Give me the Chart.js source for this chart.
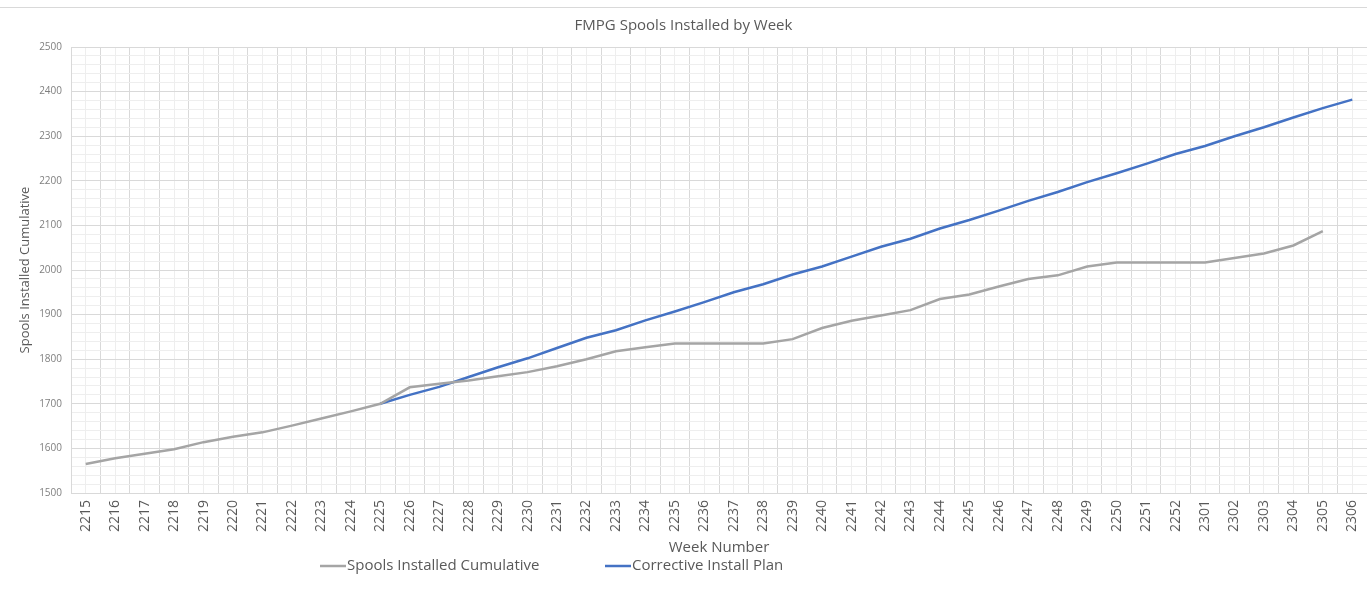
<!DOCTYPE html>
<html>
<head>
<meta charset="utf-8">
<script src="https://cdn.jsdelivr.net/npm/chart.js@4.4.1/dist/chart.umd.min.js"></script>
<style>
  body { margin: 0; background: #fff; }
  #wrap { position: relative; width: 1367px; height: 597px; }
  #topline { position: absolute; left: 0; right: 0; top: 7px; border-top: 1px solid #d9d9d9; }
</style>
</head>
<body>
<div id="wrap">
  <div id="topline"></div>
  <canvas id="spoolChart" width="1367" height="597"></canvas>
</div>
<script>
// week numbers (yyww)
const weeks = ['2215', '2216', '2217', '2218', '2219', '2220', '2221', '2222', '2223', '2224',
    '2225', '2226', '2227', '2228', '2229', '2230', '2231', '2232', '2233', '2234',
    '2235', '2236', '2237', '2238', '2239', '2240', '2241', '2242', '2243', '2244',
    '2245', '2246', '2247', '2248', '2249', '2250', '2251', '2252', '2301', '2302',
    '2303', '2304', '2305', '2306'];

const installedCumulative = [1565, 1578, 1588, 1598, 1614, 1626, 1636, 1651, 1667, 1683,
    1700, 1737, 1745, 1752, 1762, 1771, 1784, 1800, 1818, 1827,
    1835, 1835, 1835, 1835, 1845, 1870, 1886, 1898, 1910, 1935,
    1945, 1963, 1980, 1988, 2008, 2017, 2017, 2017, 2017, 2027,
    2037, 2055, 2087, null];

const correctivePlan = [null, null, null, null, null, null, null, null, null, null,
    1700, 1720, 1738, 1760, 1782, 1802, 1825, 1848, 1865, 1887,
    1907, 1928, 1950, 1968, 1990, 2008, 2030, 2052, 2070, 2093,
    2112, 2133, 2155, 2175, 2197, 2217, 2238, 2260, 2278, 2300,
    2320, 2342, 2363, 2382];

const yMin = 1500;
const yMax = 2500;

const textColor = '#595959';
const fontFamily = '"Open Sans", "Liberation Sans", sans-serif';

// legend drawn under the axis title, Excel style
const bottomLegend = {
    id: 'bottomLegend',
    afterDraw(chart) {
        let ctx = chart.ctx;
        let positions = [320, 605]; // line start x for each entry
        let y = 566;
        ctx.save();
        ctx.font = '15px ' + fontFamily;
        ctx.textBaseline = 'middle';
        chart.data.datasets.forEach((ds, i) => {
            let x = positions[i];
            ctx.strokeStyle = ds.borderColor;
            ctx.lineWidth = 2.5;
            ctx.beginPath();
            ctx.moveTo(x, y);
            ctx.lineTo(x + 26, y);
            ctx.stroke();
            ctx.fillStyle = textColor;
            ctx.fillText(ds.label, x + 27, y);
        });
        ctx.restore();
    }
};

let ctx = document.getElementById('spoolChart').getContext('2d');
let myChart = new Chart(ctx, {
    type: 'line',
    plugins: [bottomLegend],
    data: {
        labels: weeks,
        datasets: [{
            label: 'Spools Installed Cumulative',
            data: installedCumulative,
            borderColor: '#a5a5a5',
            borderWidth: 2.5,
            pointRadius: 0,
            tension: 0,
        }, {
            label: 'Corrective Install Plan',
            data: correctivePlan,
            borderColor: '#4472c4',
            borderWidth: 2.5,
            pointRadius: 0,
            tension: 0,
        }]
    },
    options: {
        responsive: false,
        animation: false,
        layout: {
            padding: { left: 0, right: 0, top: 0, bottom: 40 }
        },
        plugins: {
            legend: { display: false },
            tooltip: { enabled: false },
            title: {
                display: true,
                text: 'FMPG Spools Installed by Week',
                color: textColor,
                font: { family: fontFamily, size: 15, weight: 'normal' },
                padding: { top: 17, bottom: 12 }
            }
        },
        scales: {
            x: {
                type: 'category',
                offset: true,
                grid: {
                    offset: true,
                    color: '#d9d9d9',
                    drawTicks: false
                },
                border: { color: '#d9d9d9' },
                ticks: {
                    minRotation: 90,
                    maxRotation: 90,
                    autoSkip: false,
                    padding: 7,
                    color: '#595959',
                    font: { family: fontFamily, size: 14 }
                },
                title: {
                    display: true,
                    text: 'Week Number',
                    color: textColor,
                    font: { family: fontFamily, size: 15 },
                    padding: { top: 0, bottom: 0 }
                },
                afterFit: function (scale) {
                    scale.height = 64;
                    scale.paddingLeft = 0;
                    scale.paddingRight = 0;
                }
            },
            // minor vertical lines at category centres
            x2: {
                type: 'category',
                labels: weeks,
                position: 'top',
                offset: true,
                grid: {
                    offset: false,
                    color: '#eeeeee',
                    drawTicks: false
                },
                border: { display: false },
                ticks: { display: false },
                afterFit: function (scale) {
                    scale.height = 0;
                    scale.paddingLeft = 0;
                    scale.paddingRight = 0;
                }
            },
            y: {
                min: yMin,
                max: yMax,
                grid: {
                    color: '#d9d9d9',
                    drawTicks: false
                },
                border: { color: '#d9d9d9' },
                ticks: {
                    stepSize: 100,
                    padding: 9,
                    color: '#7f7f7f',
                    font: { family: fontFamily, size: 10 },
                    callback: function (value) {
                        return String(value); // no thousands separator
                    }
                },
                title: {
                    display: true,
                    text: 'Spools Installed Cumulative',
                    color: textColor,
                    font: { family: fontFamily, size: 13 },
                    padding: { top: 17, bottom: 0 }
                },
                afterFit: function (scale) {
                    scale.width = 71;
                }
            },
            // minor horizontal lines every 20
            y2: {
                min: yMin,
                max: yMax,
                position: 'right',
                grid: {
                    drawTicks: false,
                    color: function (context) {
                        return context.tick && context.tick.value % 100 === 0 ? 'rgba(0,0,0,0)' : '#eeeeee';
                    }
                },
                border: { display: false },
                ticks: { display: false, stepSize: 20 },
                afterFit: function (scale) {
                    scale.width = 0;
                }
            }
        }
    }
});
</script>
</body>
</html>
